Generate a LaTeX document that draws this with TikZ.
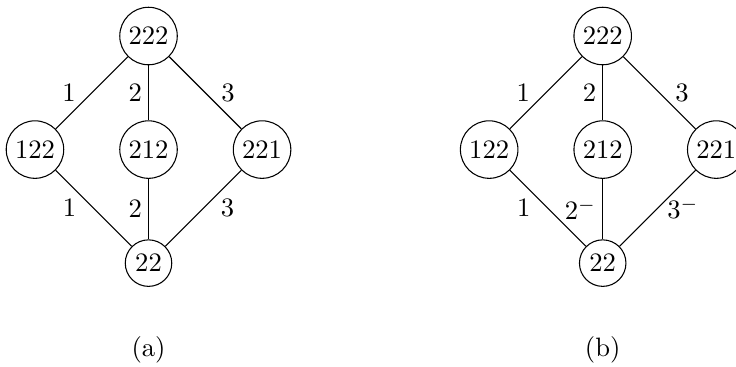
\documentclass[tikz,border=0pt]{standalone}
\usepackage{tikz}
\usetikzlibrary{arrows,shapes}
\usetikzlibrary{calc}
\tikzstyle{vertex}=[circle,draw,inner sep=2pt]
\tikzstyle{undirectededge} = [draw]
\tikzstyle{weight} = [inner sep=0pt]

\begin{document}
\begin{tikzpicture}[scale=1]
    \useasboundingbox (-0.462,-2.872) rectangle (9.261,1.976);

    \foreach \pos/ \name in {{(0,0)/122},{(1.5,1.5)/222}, {(1.5,0)/212}, {(3,0)/221}, {(1.5,-1.5)/22}}
        \node[vertex] (a\name) at \pos{$\name$};

    % Connect vertices with edges and draw weights
    \foreach \source/ \dest/\weight/\sh in {222/122/{1}/-5.8pt, 122/22/{1}/-6.4pt, 222/212/{2}/-2.3pt, 212/22/{2}/-2.3pt}
        \path[undirectededge] (a\source) -- node[weight,anchor=east,xshift=\sh] {$\weight$} (a\dest);
    \foreach \source/ \dest/\weight/\sh in {222/221/{3}/5.8pt, 221/22/{3}/6.4pt}
        \path[undirectededge] (a\source) -- node[weight,anchor=west,xshift=\sh] {$\weight$} (a\dest);

   \def\dx{6};

    \foreach \pos/ \name in {{(0+\dx,0)/122},{(1.5+\dx,1.5)/222}, {(1.5+\dx,0)/212}, {(3+\dx,0)/221}, {(1.5+\dx,-1.5)/22}}
        \node[vertex] (b\name) at \pos{$\name$};

    % Connect vertices with edges and draw weights
    \foreach \source/ \dest/\weight/\sh in {222/122/{1}/-5.8pt, 122/22/{1}/-6.4pt, 222/212/{2}/-2.3pt, 212/22/{2^-}/-2.3pt}
        \path[undirectededge] (b\source) -- node[weight,anchor=east,xshift=\sh] {$\weight$} (b\dest);
    \foreach \source/ \dest/\weight/\sh in {222/221/{3}/5.8pt, 221/22/{3^-}/3.5pt}
        \path[undirectededge] (b\source) -- node[weight,anchor=west,xshift=\sh] {$\weight$} (b\dest);

        \node (capa) at (1.5, -2.65) {(a)};
        \node (capb) at (1.5+\dx, -2.65) {(b)};

	\end{tikzpicture}
\end{document}
